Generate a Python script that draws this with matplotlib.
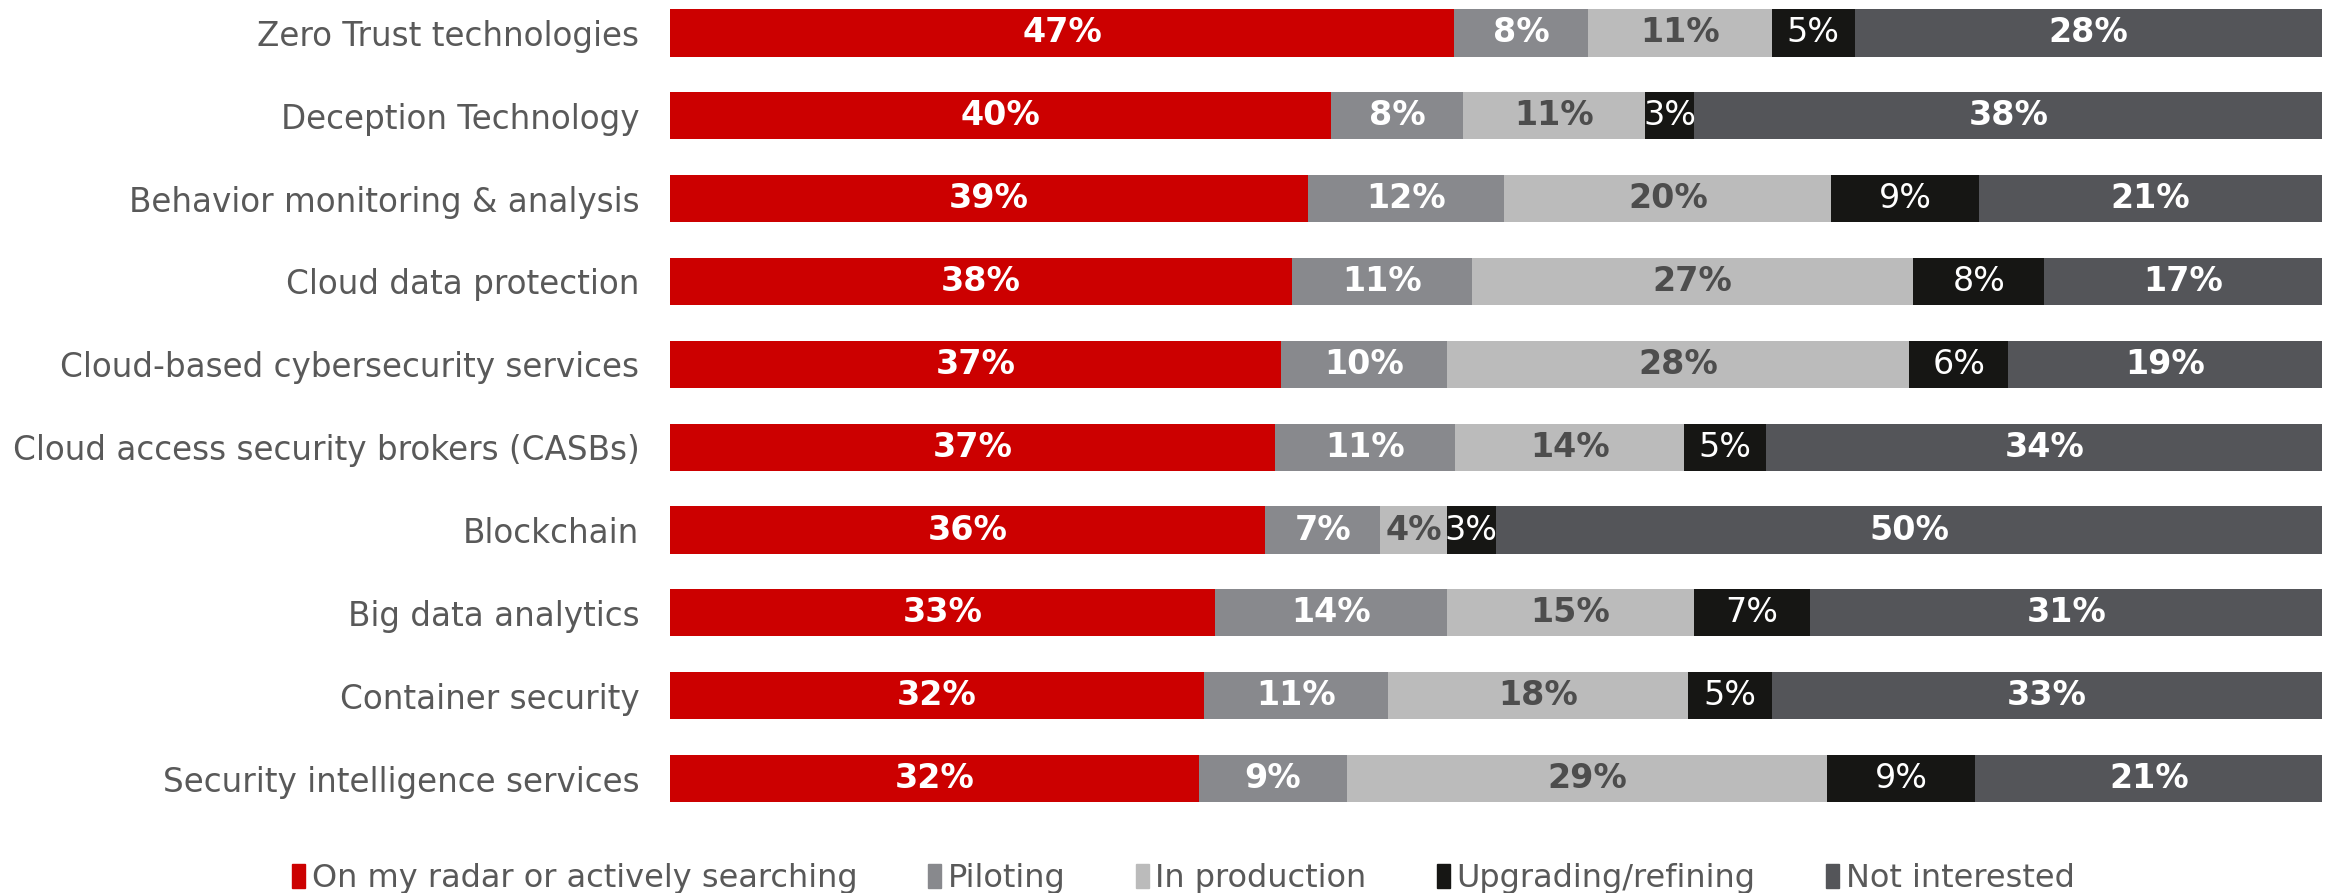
import matplotlib.pyplot as plt
import numpy as np
from matplotlib.patches import Patch

categories = [
    "Zero Trust technologies",
    "Deception Technology",
    "Behavior monitoring & analysis",
    "Cloud data protection",
    "Cloud-based cybersecurity services",
    "Cloud access security brokers (CASBs)",
    "Blockchain",
    "Big data analytics",
    "Container security",
    "Security intelligence services",
]
series_names = [
    "On my radar or actively searching",
    "Piloting",
    "In production",
    "Upgrading/refining",
    "Not interested",
]
radar = [47, 40, 39, 38, 37, 37, 36, 33, 32, 32]
piloting = [8, 8, 12, 11, 10, 11, 7, 14, 11, 9]
production = [11, 11, 20, 27, 28, 14, 4, 15, 18, 29]
upgrading = [5, 3, 9, 8, 6, 5, 3, 7, 5, 9]
not_interested = [28, 38, 21, 17, 19, 34, 50, 31, 33, 21]

COLORS = ["#cc0000", "#88898d", "#bbbbbb", "#161614", "#545559"]
TEXT_COLORS = ["white", "white", "#4d4d4d", "white", "white"]
WEIGHTS = ["bold", "bold", "bold", "normal", "bold"]
LABEL_GRAY = "#595959"

plt.rcParams["font.family"] = ["DejaVu Sans"]

fig = plt.figure(figsize=(23.34, 8.93), dpi=100)
ax = fig.add_axes([0.287, 0.1003, 0.708, 0.8907])

values = np.array([radar, piloting, production, upgrading, not_interested], dtype=float)
# rows are rounded, so stretch each one to the full width
shares = values / values.sum(axis=0) * 100
ys = np.arange(len(categories))

left = np.zeros(len(categories))
for i, name in enumerate(series_names):
    ax.barh(ys, shares[i], left=left, height=0.57, color=COLORS[i], label=name)
    for y, lft, w, v in zip(ys, left, shares[i], values[i]):
        ax.text(
            lft + w / 2, y, f"{int(v)}%",
            ha="center", va="center", color=TEXT_COLORS[i],
            fontsize=24, fontweight=WEIGHTS[i],
        )
    left += shares[i]

ax.set_xlim(0, 100)
ax.set_ylim(len(categories) - 1 + 0.3, -0.3)
ax.set_yticks(ys)
ax.set_yticklabels(categories, fontsize=23.5, color=LABEL_GRAY)
ax.tick_params(axis="y", length=0, pad=22)
ax.set_xticks([])
for side in ax.spines.values():
    side.set_visible(False)

handles = [Patch(color=c) for c in COLORS]
fig.legend(
    handles, series_names,
    loc="center", bbox_to_anchor=(0.507, 0.016), ncol=5, frameon=False,
    fontsize=23, labelcolor=LABEL_GRAY,
    handlelength=0.42, handleheight=0.75, handletextpad=0.2, columnspacing=2.2,
)

fig.savefig("out.png", dpi=100)
